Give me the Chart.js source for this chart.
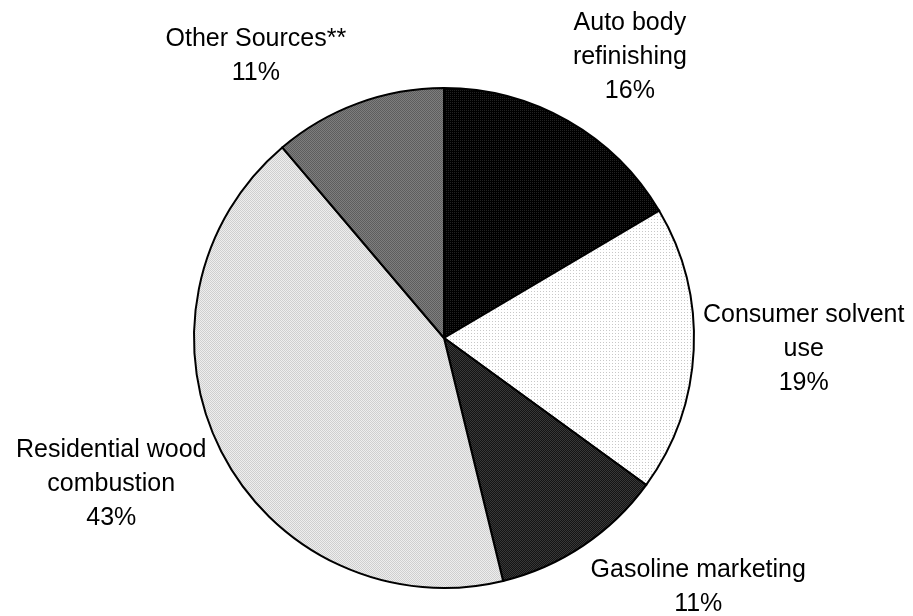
<!DOCTYPE html>
<html>
<head>
<meta charset="utf-8">
<script src="https://cdn.jsdelivr.net/npm/chart.js@4.4.0/dist/chart.umd.min.js"></script>
<style>
  html, body { margin: 0; padding: 0; background: #ffffff; }
  #wrap { width: 913px; height: 616px; }
</style>
</head>
<body>
<div id="wrap"><canvas id="c" width="913" height="616"></canvas></div>
<script>
// ---- data ----
const categories = ["Auto body refinishing", "Consumer solvent use", "Gasoline marketing", "Residential wood combustion", "Other Sources**"];
const shares = [16.5, 18.5, 11.2, 42.6, 11.2];
const percentLabels = ["16%", "19%", "11%", "43%", "11%"];
const labelLines = [
  ["Auto body", "refinishing"],
  ["Consumer solvent", "use"],
  ["Gasoline marketing"],
  ["Residential wood", "combustion"],
  ["Other Sources**"]
];
// offset of each label block (centre x, first baseline) from its slice's outer mid-point
const labelOffsets = [[62, -91], [110, -28], [115, 31], [-110, 6], [-102, -57]];

// ---- patterns (fills) ----
function makePattern(size, base, dot, cells) {
  const cv = document.createElement('canvas');
  cv.width = size; cv.height = size;
  const g = cv.getContext('2d');
  g.fillStyle = base; g.fillRect(0, 0, size, size);
  g.fillStyle = dot;
  cells.forEach(([x, y]) => g.fillRect(x, y, 1, 1));
  return g.createPattern(cv, 'repeat');
}
const ctx = document.getElementById('c').getContext('2d');
const fills = [
  makePattern(2, '#000000', '#222222', [[0, 0]]),
  makePattern(3, '#ffffff', '#c8c8c8', [[0, 0]]),
  makePattern(2, '#141414', '#383838', [[0, 0], [1, 1]]),
  makePattern(2, '#eeeeee', '#cfcfcf', [[0, 0], [1, 1]]),
  makePattern(2, '#7e7e7e', '#5e5e5e', [[0, 0], [1, 1]])
];

const labelPlugin = {
  id: 'sliceLabels',
  afterDatasetsDraw(chart) {
    const meta = chart.getDatasetMeta(0);
    const c = chart.ctx;
    c.save();
    c.font = '25px "Liberation Sans", Arial, sans-serif';
    c.fillStyle = '#000000';
    c.textAlign = 'center';
    c.textBaseline = 'alphabetic';
    const lineH = 34;
    meta.data.forEach((arc, i) => {
      const p = arc.getProps(['x', 'y', 'startAngle', 'endAngle', 'outerRadius'], true);
      const mid = (p.startAngle + p.endAngle) / 2;
      const ax = p.x + p.outerRadius * Math.cos(mid);
      const ay = p.y + p.outerRadius * Math.sin(mid);
      const cx = ax + labelOffsets[i][0];
      let y = ay + labelOffsets[i][1];
      const lines = labelLines[i].concat([percentLabels[i]]);
      lines.forEach(t => { c.fillText(t, cx, y); y += lineH; });
    });
    c.restore();
  }
};

new Chart(ctx, {
  type: 'pie',
  data: {
    labels: categories,
    datasets: [{
      data: shares,
      backgroundColor: fills,
      borderColor: '#000000',
      borderWidth: 2,
      borderJoinStyle: 'miter'
    }]
  },
  options: {
    responsive: false,
    animation: false,
    layout: { padding: { left: 193, right: 218, top: 87, bottom: 27 } },
    plugins: {
      legend: { display: false },
      tooltip: { enabled: false },
      title: { display: false }
    }
  },
  plugins: [labelPlugin]
});
</script>
</body>
</html>
